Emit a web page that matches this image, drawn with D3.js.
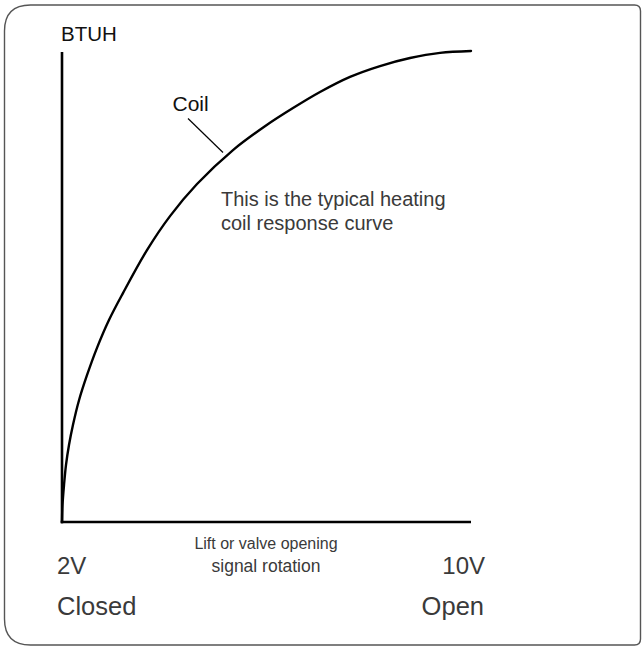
<!DOCTYPE html>
<html>
<head>
<meta charset="utf-8">
<script src="https://cdn.jsdelivr.net/npm/d3@7"></script>
<style>
  html, body { margin: 0; padding: 0; background: #fff; }
  svg text { font-family: "Liberation Sans", Arial, Helvetica, sans-serif; }
</style>
</head>
<body>
<div id="chart"></div>
<script>
// Valve lift / signal (% of travel) vs. heating output (% BTUH)
const lift = [0, 0.12, 0.49, 0.98, 1.71, 2.69, 4.16, 6.11, 8.56, 11.49, 14.91, 20.78, 26.41, 33.01, 41.81, 49.88, 56.48, 63.08, 70.42, 77.75, 85.09, 92.42, 100];
const btuh = [0, 3.6, 7.8, 12.1, 16.3, 20.6, 25.8, 31.1, 36.9, 42.8, 48.5, 57.6, 64.8, 71.6, 78.8, 84.0, 87.7, 91.1, 94.3, 96.6, 98.3, 99.4, 99.8];
const xEndLabels = ["2V", "10V"];
const xStateLabels = ["Closed", "Open"];
const yAxisLabel = "BTUH";
const xAxisTitle = ["Lift or valve opening", "signal rotation"];
const curveLabel = "Coil";
const noteLines = ["This is the typical heating", "coil response curve"];

const W = 644, H = 650;
const svg = d3.select("#chart").append("svg").attr("width", W).attr("height", H);

// frame: large radius on the left, small curl on the right
const fx0 = 4.5, fy0 = 5, fx1 = 640.5, fy1 = 645, rl = 26, rr = 6;
const frame = d3.path();
frame.moveTo(fx0 + rl, fy0);
frame.lineTo(fx1 - rr, fy0);
frame.quadraticCurveTo(fx1, fy0, fx1, fy0 + rr);
frame.lineTo(fx1, fy1 - rr);
frame.quadraticCurveTo(fx1, fy1, fx1 - rr, fy1);
frame.lineTo(fx0 + rl, fy1);
frame.quadraticCurveTo(fx0, fy1, fx0, fy1 - rl);
frame.lineTo(fx0, fy0 + rl);
frame.quadraticCurveTo(fx0, fy0, fx0 + rl, fy0);
svg.append("path").attr("d", frame.toString())
  .attr("fill", "none").attr("stroke", "#555").attr("stroke-width", 1.4);

const x = d3.scaleLinear().domain([0, 100]).range([62, 471]);
const y = d3.scaleLinear().domain([0, 100]).range([522, 50]);

// axes (plain lines, no ticks)
svg.append("line")
  .attr("x1", x(0)).attr("x2", x(0))
  .attr("y1", y(0) + 1.2).attr("y2", y(99.6))
  .attr("stroke", "#000").attr("stroke-width", 2.6);
svg.append("line")
  .attr("x1", x(0) - 1.3).attr("x2", x(100))
  .attr("y1", y(0)).attr("y2", y(0))
  .attr("stroke", "#000").attr("stroke-width", 2.6);

// response curve
const pts = lift.map((d, i) => [d, btuh[i]]);
const line = d3.line().x(d => x(d[0])).y(d => y(d[1])).curve(d3.curveCatmullRom.alpha(0.5));
svg.append("path").datum(pts).attr("d", line)
  .attr("fill", "none").attr("stroke", "#000").attr("stroke-width", 2.4)
  .attr("stroke-linejoin", "round").attr("stroke-linecap", "round");

// y axis label
svg.append("text").attr("x", 61).attr("y", 41)
  .attr("font-size", 20.5).attr("fill", "#111").text(yAxisLabel);

// Coil label and leader
svg.append("text").attr("x", 172.5).attr("y", 111)
  .attr("font-size", 21).attr("fill", "#111").text(curveLabel);
svg.append("line")
  .attr("x1", 188).attr("y1", 118.5).attr("x2", 223).attr("y2", 152.5)
  .attr("stroke", "#000").attr("stroke-width", 1.2);

// note
svg.append("g").selectAll("text").data(noteLines).join("text")
  .attr("x", 221).attr("y", (d, i) => 206 + i * 24)
  .attr("font-size", 20).attr("fill", "#3a3a3a").text(d => d);

// x axis title
svg.append("g").selectAll("text").data(xAxisTitle).join("text")
  .attr("x", 266).attr("y", (d, i) => 549 + i * 23)
  .attr("text-anchor", "middle")
  .attr("font-size", (d, i) => i === 0 ? 16 : 17.5)
  .attr("fill", "#3a3a3a").text(d => d);

// end labels
svg.append("text").attr("x", 57).attr("y", 574)
  .attr("font-size", 24).attr("fill", "#3a3a3a").text(xEndLabels[0]);
svg.append("text").attr("x", 485).attr("y", 574).attr("text-anchor", "end")
  .attr("font-size", 24).attr("fill", "#3a3a3a").text(xEndLabels[1]);
svg.append("text").attr("x", 57).attr("y", 615)
  .attr("font-size", 25.5).attr("fill", "#3a3a3a").text(xStateLabels[0]);
svg.append("text").attr("x", 484).attr("y", 615).attr("text-anchor", "end")
  .attr("font-size", 25.5).attr("fill", "#3a3a3a").text(xStateLabels[1]);
</script>
</body>
</html>
